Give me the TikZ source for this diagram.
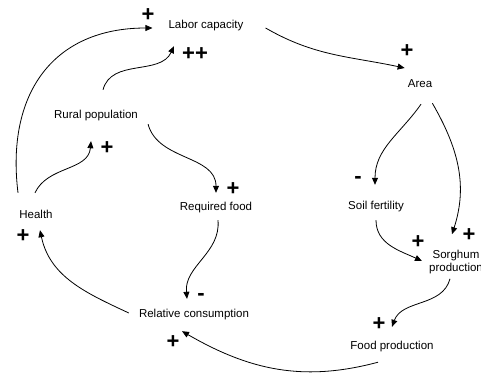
\documentclass[tikz,border=0pt]{standalone}
\usepackage{fontspec}
\setmainfont{Liberation Sans}
\usetikzlibrary{arrows.meta}

\begin{document}
\begin{tikzpicture}[x=1pt,y=1pt,
  var/.style={inner sep=0pt,text height=8pt,text depth=2pt,font=\fontsize{11.5}{13.5}\selectfont},
  sign/.style={inner sep=0pt,font=\fontsize{22}{22}\selectfont\bfseries},
  link/.style={line width=0.8pt,-{Triangle[length=7pt,width=6pt]}}]
\useasboundingbox (0,0) rectangle (481,376);

% Variables
\node[var] (labor) at (206,351) {Labor capacity};
\node[var] (area) at (420,292) {Area};
\node[var] (rural) at (96,261) {Rural population};
\node[var] (reqfood) at (216,169) {Required food};
\node[var] (soil) at (376,170) {Soil fertility};
\node[var] (health) at (36,161) {Health};
\node[var,align=center,text height=,text depth=] (sorghum) at (456,114) {Sorghum\\production};
\node[var] (relcons) at (194,62) {Relative consumption};
\node[var] (foodprod) at (392,30) {Food production};

% Causal links
\draw[link] ([shift={(-18,17)}]health.north) to[out=97,in=180,looseness=1.2] ([shift={(-16,-3)}]labor.west);
\draw[link] ([shift={(-1,17)}]health.north) to[out=65,in=265] ([shift={(-5,-21)}]rural.south);
\draw[link] ([shift={(7,20)}]rural.north) to[out=75,in=245] ([shift={(-32,-16)}]labor.south);
\draw[link] ([shift={(22,-3)}]labor.east) to[out=-30,in=168] ([shift={(-3,16)}]area.west);
\draw[link] ([shift={(10,-4)}]rural.south east) to[out=-75,in=90] ([shift={(0,9)}]reqfood.north);
\draw[link] ([shift={(1,-15)}]area.south) to[out=-125,in=90] ([shift={(-1,16)}]soil.north);
\draw[link] ([shift={(0,-14)}]area.south east) to[out=-60,in=72] ([shift={(-4,15.5)}]sorghum.north);
\draw[link] ([shift={(0,-9)}]soil.south) to[out=-90,in=155] ([shift={(-7,1)}]sorghum.west);
\draw[link] ([shift={(-6,-4.5)}]sorghum.south) to[out=-105,in=70] ([shift={(0,14)}]foodprod.north);
\draw[link] ([shift={(-14,-11)}]foodprod.south) to[out=195,in=-30] ([shift={(-12,-12)}]relcons.south);
\draw[link] ([shift={(2,-8)}]reqfood.south) to[out=-85,in=95] ([shift={(-7,10)}]relcons.north);
\draw[link] ([shift={(-10,1)}]relcons.west) to[out=155,in=-78] ([shift={(4,-10)}]health.south);

% Polarities
\node[sign] (p1) at (148,361) {+};
\node[sign] (p2) at (195,322) {++};
\node[sign] (p3) at (407,325) {+};
\node[sign] (p4) at (107,228) {+};
\node[sign] (p5) at (233,187) {+};
\node[sign] (p6) at (358,196) {-};
\node[sign] (p7) at (469,141) {+};
\node[sign] (p8) at (418,134) {+};
\node[sign] (p9) at (23,140) {+};
\node[sign] (p10) at (201,79) {-};
\node[sign] (p11) at (379,52) {+};
\node[sign] (p12) at (173,34) {+};

\end{tikzpicture}
\end{document}
